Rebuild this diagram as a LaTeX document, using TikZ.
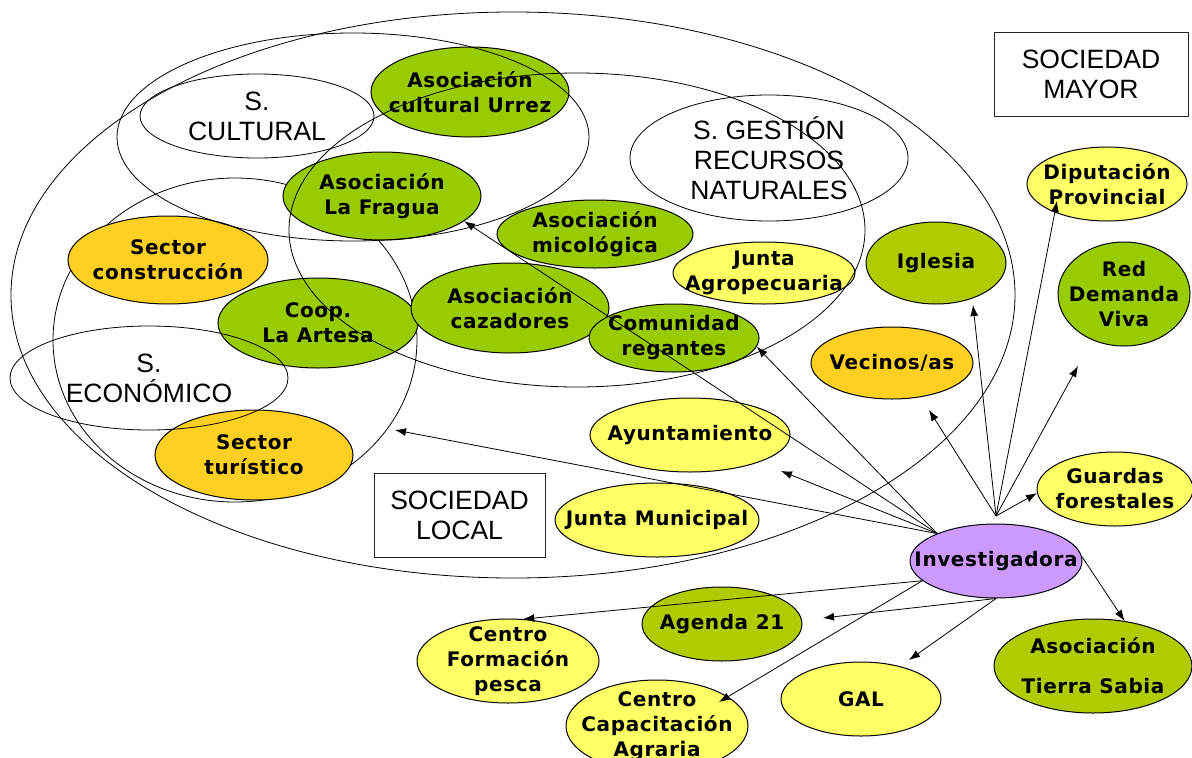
\documentclass[tikz,border=0pt]{standalone}
\usepackage{fontspec}
\setmainfont{Liberation Sans}
\newfontfamily\etiq[LetterSpace=3]{DejaVu Sans}
\usetikzlibrary{arrows.meta,shapes}

\definecolor{cVerde}{HTML}{99CC00}
\definecolor{cVerdeClaro}{HTML}{B0CC00}
\definecolor{cNaranja}{HTML}{FFD021}
\definecolor{cAmarillo}{HTML}{FFFF66}
\definecolor{cLila}{HTML}{CC99FF}

\begin{document}
\begin{tikzpicture}[x=1pt, y=-1pt,
		basic/.style = {draw, ellipse, inner sep=-60pt, align=center},
		entidad/.style = {basic, line width=1pt, font=\etiq\bfseries\fontsize{20}{25}\selectfont},
		verde/.style = {entidad, fill=cVerde},
		verdeclaro/.style = {entidad, fill=cVerdeClaro},
		naranja/.style = {entidad, fill=cNaranja},
		amarillo/.style = {entidad, fill=cAmarillo},
		lila/.style = {entidad, fill=cLila},
		esfera/.style = {basic, line width=0.8pt},
		sector/.style = {esfera, font=\fontsize{26.5}{30}\selectfont},
		caja/.style = {draw=black!85, rectangle, line width=0.8pt, inner sep=0pt, align=center, font=\fontsize{26.5}{30}\selectfont},
		tam/.style 2 args = {minimum width=#1pt, minimum height=#2pt},
		>={Latex[length=11pt,width=8pt]}]

		\fill[white] (0,0) rectangle (1192,758);
		\useasboundingbox (0,0) rectangle (1192,758);

		% esferas por debajo de los actores
		\node[esfera, tam={1004}{566}] (local) at (513,295) {};
		\node[esfera, tam={364}{324}] (econ) at (235,340) {};

		% actores de la sociedad local
		\node[verde, tam={198}{90}] (urrez) at (470,92) {Asociación\\cultural Urrez};
		\node[verde, tam={198}{88}] (fragua) at (382,196) {Asociación\\La Fragua};
		\node[naranja, tam={200}{88}] (constr) at (168,260) {Sector\\construcción};
		\node[verde, tam={200}{90}] (artesa) at (318,323) {Coop.\\La Artesa};
		\node[verde, tam={198}{90}] (cazad) at (510,308) {Asociación\\cazadores};
		\node[verde, tam={196}{68}] (micol) at (595,234) {Asociación\\micológica};
		\node[amarillo, tam={182}{62}] (agrop) at (764,273) {Junta\\Agropecuaria};
		\node[verde, tam={170}{68}] (regant) at (674,338) {Comunidad\\regantes};
		\node[naranja, tam={198}{90}] (turis) at (254,455) {Sector\\turístico};
		\node[amarillo, tam={200}{74}] (ayto) at (690,435) {Ayuntamiento};
		\node[amarillo, tam={204}{74}] (jmun) at (657,520) {Junta Municipal};
		\node[naranja, tam={162}{72}] (vecin) at (892,363) {Vecinos/as};
		\node[verdeclaro, tam={140}{82}] (iglesia) at (936,263) {Iglesia};

		% actores de la sociedad mayor
		\node[amarillo, tam={160}{74}] (diput) at (1107,184) {Diputación\\Provincial};
		\node[verde, tam={132}{104}] (red) at (1124,294) {Red\\Demanda\\Viva};
		\node[amarillo, tam={156}{74}] (guard) at (1115,489) {Guardas\\forestales};
		\node[lila, tam={172}{74}] (inv) at (996,561) {Investigadora};
		\node[verdeclaro, tam={160}{74}] (agenda) at (722,624) {Agenda 21};
		\node[amarillo, tam={160}{74}] (gal) at (861,699) {GAL};
		\node[verdeclaro, tam={198}{94}] (sabia) at (1093,666) {Asociación\\[15pt]Tierra Sabia};
		\node[amarillo, tam={182}{84}] (formac) at (508,661) {Centro\\Formación\\pesca};
		\node[amarillo, tam={182}{92}] (capac) at (657,726) {Centro\\Capacitación\\Agraria};

		% esferas por encima
		\node[esfera, tam={472}{208}] (cult) at (353,137) {};
		\node[esfera, tam={576}{314}] (gest) at (577,230) {};
		\node[sector, tam={234}{84}] (scult) at (257,116) {S.\\CULTURAL};
		\node[sector, tam={278}{126}] (sgest) at (769,158) {S. GESTIÓN\\RECURSOS\\NATURALES};
		\node[sector, tam={278}{104}] (secon) at (149,378) {S.\\ECONÓMICO};

		\node[caja, tam={194}{84}] (mayor) at (1091,74) {SOCIEDAD\\MAYOR};
		\node[caja, tam={171}{84}] (slocal) at (459.5,515) {SOCIEDAD\\LOCAL};

		% puntos libres de las flechas
		\coordinate (cruce) at (996,516);
		\coordinate (aEcon) at (395,430);
		\coordinate (aAyto) at (781,471);
		\coordinate (aVecin) at (929,410);
		\coordinate (aIgl) at (973,305);
		\coordinate (aDiput) at (1057,201);
		\coordinate (aRed) at (1078,366);
		\coordinate (aCapac) at (719,702);
		\coordinate (aAgenda) at (823,618);
		\coordinate (aGal) at (909,660);

		% flechas desde la investigadora
		\foreach \dest in {aEcon,fragua.-17,regant.-6,aAyto}
		\draw[->, line width=0.8pt] (inv.155) -- (\dest);

		\foreach \dest in {aVecin,aIgl,aDiput,aRed,guard.183}
		\draw[->, line width=0.8pt] (cruce) -- (\dest);

		\foreach \dest in {formac.70,aCapac}
		\draw[->, line width=0.8pt] (inv.195) -- (\dest);

		\foreach \dest in {aAgenda,aGal}
		\draw[->, line width=0.8pt] (inv.south) -- (\dest);

		\draw[->, line width=0.8pt] (inv.3) -- (sabia.55);

	\end{tikzpicture}
\end{document}
